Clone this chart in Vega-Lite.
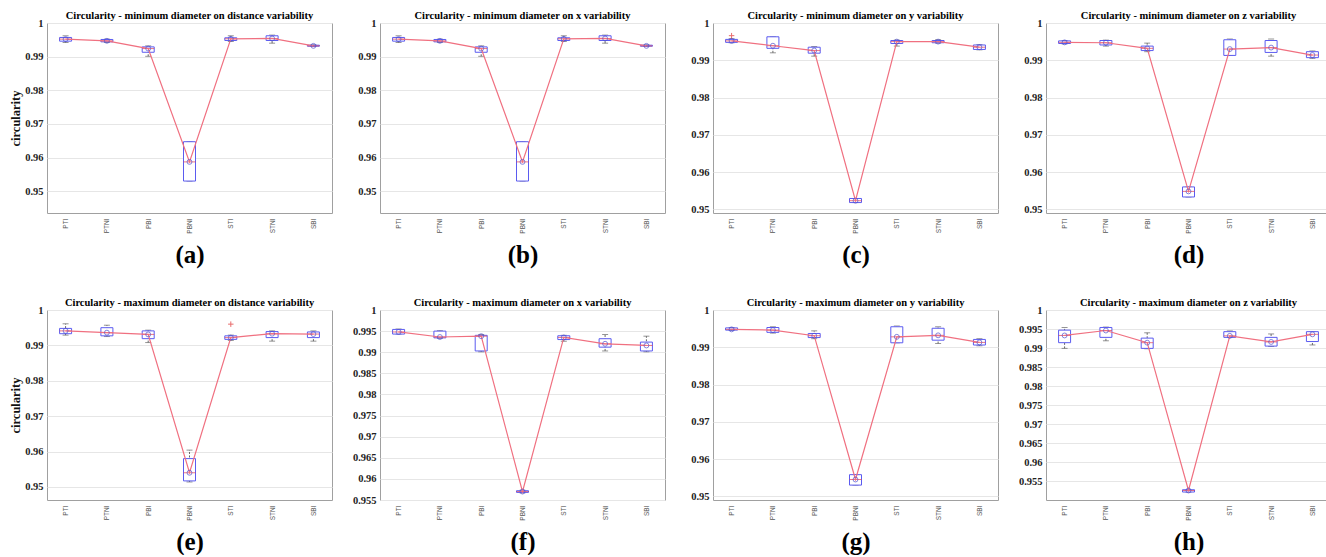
{
"$schema":"https://vega.github.io/schema/vega-lite/v6.json",
"padding":{"left":8,"top":10,"right":0,"bottom":0},
"background":"#ffffff",
"datasets":{
"s":[
{"p":"a","c":"PTI","i":1,"lo":0.9942,"q1":0.9946,"md":0.9952,"q3":0.9957,"hi":0.9962},
{"p":"a","c":"PTNI","i":2,"lo":0.9942,"q1":0.9944,"md":0.9947,"q3":0.9951,"hi":0.9952},
{"p":"a","c":"PBI","i":3,"lo":0.9901,"q1":0.9913,"md":0.9924,"q3":0.9929,"hi":0.9932},
{"p":"a","c":"PBNI","i":4,"lo":0.953,"q1":0.953,"md":0.9587,"q3":0.9647,"hi":0.9647},
{"p":"a","c":"STI","i":5,"lo":0.9945,"q1":0.9948,"md":0.9953,"q3":0.9956,"hi":0.9962},
{"p":"a","c":"STNI","i":6,"lo":0.994,"q1":0.9948,"md":0.9954,"q3":0.9962,"hi":0.9964},
{"p":"a","c":"SBI","i":7,"lo":0.993,"q1":0.9931,"md":0.9932,"q3":0.9934,"hi":0.9935},
{"p":"b","c":"PTI","i":1,"lo":0.9942,"q1":0.9946,"md":0.9952,"q3":0.9957,"hi":0.9962},
{"p":"b","c":"PTNI","i":2,"lo":0.9942,"q1":0.9944,"md":0.9947,"q3":0.9951,"hi":0.9952},
{"p":"b","c":"PBI","i":3,"lo":0.9901,"q1":0.9913,"md":0.9924,"q3":0.9929,"hi":0.9932},
{"p":"b","c":"PBNI","i":4,"lo":0.953,"q1":0.953,"md":0.9587,"q3":0.9647,"hi":0.9647},
{"p":"b","c":"STI","i":5,"lo":0.9945,"q1":0.9948,"md":0.9953,"q3":0.9956,"hi":0.9962},
{"p":"b","c":"STNI","i":6,"lo":0.994,"q1":0.9948,"md":0.9954,"q3":0.9962,"hi":0.9964},
{"p":"b","c":"SBI","i":7,"lo":0.993,"q1":0.9931,"md":0.9932,"q3":0.9934,"hi":0.9935},
{"p":"c","c":"PTI","i":1,"lo":0.9947,"q1":0.9948,"md":0.9952,"q3":0.9956,"hi":0.9958},
{"p":"c","c":"PTNI","i":2,"lo":0.992,"q1":0.9932,"md":0.9939,"q3":0.9963,"hi":0.9963},
{"p":"c","c":"PBI","i":3,"lo":0.9911,"q1":0.9919,"md":0.9926,"q3":0.9935,"hi":0.9937},
{"p":"c","c":"PBNI","i":4,"lo":0.9518,"q1":0.9518,"md":0.9523,"q3":0.9529,"hi":0.9529},
{"p":"c","c":"STI","i":5,"lo":0.9938,"q1":0.9945,"md":0.995,"q3":0.9953,"hi":0.9954},
{"p":"c","c":"STNI","i":6,"lo":0.9946,"q1":0.9947,"md":0.995,"q3":0.9953,"hi":0.9955},
{"p":"c","c":"SBI","i":7,"lo":0.9928,"q1":0.9929,"md":0.9935,"q3":0.9941,"hi":0.9942},
{"p":"d","c":"PTI","i":1,"lo":0.9944,"q1":0.9945,"md":0.9948,"q3":0.9952,"hi":0.9953},
{"p":"d","c":"PTNI","i":2,"lo":0.9938,"q1":0.9941,"md":0.9947,"q3":0.9953,"hi":0.9954},
{"p":"d","c":"PBI","i":3,"lo":0.9923,"q1":0.9926,"md":0.9932,"q3":0.9938,"hi":0.9946},
{"p":"d","c":"PBNI","i":4,"lo":0.9533,"q1":0.9533,"md":0.9548,"q3":0.956,"hi":0.956},
{"p":"d","c":"STI","i":5,"lo":0.9913,"q1":0.9913,"md":0.993,"q3":0.9955,"hi":0.9957},
{"p":"d","c":"STNI","i":6,"lo":0.9911,"q1":0.9921,"md":0.9934,"q3":0.9953,"hi":0.9957},
{"p":"d","c":"SBI","i":7,"lo":0.9905,"q1":0.9907,"md":0.9914,"q3":0.9923,"hi":0.9925},
{"p":"e","c":"PTI","i":1,"lo":0.9929,"q1":0.9933,"md":0.9941,"q3":0.9948,"hi":0.9961},
{"p":"e","c":"PTNI","i":2,"lo":0.9925,"q1":0.9927,"md":0.9936,"q3":0.995,"hi":0.9957},
{"p":"e","c":"PBI","i":3,"lo":0.9908,"q1":0.9919,"md":0.9931,"q3":0.9941,"hi":0.9943},
{"p":"e","c":"PBNI","i":4,"lo":0.9514,"q1":0.9517,"md":0.954,"q3":0.958,"hi":0.9604},
{"p":"e","c":"STI","i":5,"lo":0.9914,"q1":0.9917,"md":0.9922,"q3":0.9927,"hi":0.9929},
{"p":"e","c":"STNI","i":6,"lo":0.9912,"q1":0.9922,"md":0.9933,"q3":0.9939,"hi":0.9941},
{"p":"e","c":"SBI","i":7,"lo":0.9912,"q1":0.9922,"md":0.9932,"q3":0.9938,"hi":0.9941},
{"p":"f","c":"PTI","i":1,"lo":0.9943,"q1":0.9943,"md":0.9948,"q3":0.9954,"hi":0.9955},
{"p":"f","c":"PTNI","i":2,"lo":0.9933,"q1":0.9934,"md":0.9936,"q3":0.995,"hi":0.9951},
{"p":"f","c":"PBI","i":3,"lo":0.9901,"q1":0.9903,"md":0.9938,"q3":0.994,"hi":0.9942},
{"p":"f","c":"PBNI","i":4,"lo":0.9567,"q1":0.9568,"md":0.957,"q3":0.9572,"hi":0.9573},
{"p":"f","c":"STI","i":5,"lo":0.9926,"q1":0.993,"md":0.9935,"q3":0.9939,"hi":0.994},
{"p":"f","c":"STNI","i":6,"lo":0.9903,"q1":0.9912,"md":0.992,"q3":0.9932,"hi":0.9942},
{"p":"f","c":"SBI","i":7,"lo":0.9901,"q1":0.9903,"md":0.9916,"q3":0.9924,"hi":0.9938},
{"p":"g","c":"PTI","i":1,"lo":0.9945,"q1":0.9946,"md":0.9948,"q3":0.9952,"hi":0.9953},
{"p":"g","c":"PTNI","i":2,"lo":0.9938,"q1":0.994,"md":0.9946,"q3":0.9953,"hi":0.9955},
{"p":"g","c":"PBI","i":3,"lo":0.9923,"q1":0.9926,"md":0.9931,"q3":0.9937,"hi":0.9944},
{"p":"g","c":"PBNI","i":4,"lo":0.953,"q1":0.953,"md":0.9545,"q3":0.9558,"hi":0.9558},
{"p":"g","c":"STI","i":5,"lo":0.9912,"q1":0.9912,"md":0.9928,"q3":0.9955,"hi":0.9957},
{"p":"g","c":"STNI","i":6,"lo":0.991,"q1":0.9919,"md":0.9932,"q3":0.9951,"hi":0.9955},
{"p":"g","c":"SBI","i":7,"lo":0.9904,"q1":0.9906,"md":0.9913,"q3":0.9921,"hi":0.9923},
{"p":"h","c":"PTI","i":1,"lo":0.9899,"q1":0.9914,"md":0.9933,"q3":0.9947,"hi":0.9954},
{"p":"h","c":"PTNI","i":2,"lo":0.9919,"q1":0.9928,"md":0.9946,"q3":0.9954,"hi":0.9955},
{"p":"h","c":"PBI","i":3,"lo":0.9898,"q1":0.9899,"md":0.9914,"q3":0.9926,"hi":0.994},
{"p":"h","c":"PBNI","i":4,"lo":0.9521,"q1":0.9521,"md":0.9525,"q3":0.9527,"hi":0.9527},
{"p":"h","c":"STI","i":5,"lo":0.9928,"q1":0.9928,"md":0.9932,"q3":0.9943,"hi":0.9945},
{"p":"h","c":"STNI","i":6,"lo":0.9904,"q1":0.9905,"md":0.9916,"q3":0.9928,"hi":0.9937},
{"p":"h","c":"SBI","i":7,"lo":0.9908,"q1":0.9917,"md":0.9936,"q3":0.9943,"hi":0.9943}
],
"o":[
{"p":"c","c":"PTI","v":0.9966},
{"p":"e","c":"STI","v":0.996}
]
},
"config":{
"view":{"stroke":"#a0a0a0"},
"axis":{"grid":true,"gridColor":"#e6e6e6","domain":false,"ticks":false,"labelOverlap":false},
"axisY":{"tickCount":20,"labelFont":"Liberation Serif","labelFontWeight":"bold","labelFontSize":10.5,"labelColor":"#222","minExtent":34,"maxExtent":34,"labelPadding":4,"labelBound":false,"labelFlush":false,"titleFont":"Liberation Serif","titleFontWeight":"bold","titleFontSize":12.5,"titleColor":"#111","titlePadding":-9},
"axisX":{"grid":false,"labelAngle":270,"labelFont":"Liberation Sans","labelFontSize":6.5,"labelColor":"#555","labelPadding":5,"titleFont":"Liberation Serif","titleFontSize":25,"titleFontWeight":"bold","titleColor":"#000","titlePadding":9},
"title":{"font":"Liberation Serif","fontSize":10.5,"fontWeight":"bold","color":"#000","offset":-3}
},
"vconcat":[
{"hconcat":[
{"title":"Circularity - minimum diameter on distance variability","width":285,"height":190,
"data":{"name":"s"},"transform":[{"filter":"datum.p==='a'"}],
"encoding":{"x":{"field":"c","type":"nominal","title":"(a)","scale":{"type":"point","domain":["PTI","PTNI","PBI","PBNI","STI","STNI","SBI"],"padding":0.45}}},
"layer":[
{"mark":{"type":"rule","color":"#666","strokeDash":[2,1.5]},"encoding":{"y":{"field":"lo","type":"quantitative","title":"circularity","scale":{"domain":[0.9435,1],"nice":false,"zero":false},"axis":{"values":[0.95,0.96,0.97,0.98,0.99,1],"format":".4~g"}},"y2":{"field":"hi"}}},
{"mark":{"type":"tick","color":"#666","size":6,"thickness":1},"encoding":{"y":{"field":"lo","type":"quantitative","title":"circularity"}}},
{"mark":{"type":"tick","color":"#666","size":6,"thickness":1},"encoding":{"y":{"field":"hi","type":"quantitative","title":"circularity"}}},
{"mark":{"type":"bar","size":12,"fill":"#ffffff","stroke":"#5b5bf0","strokeWidth":1},"encoding":{"y":{"field":"q1","type":"quantitative","title":"circularity"},"y2":{"field":"q3"}}},
{"mark":{"type":"tick","color":"#e8404f","size":12,"thickness":1},"encoding":{"y":{"field":"md","type":"quantitative","title":"circularity"}}},
{"mark":{"type":"line","color":"#f07080","strokeWidth":1.2},"encoding":{"y":{"field":"md","type":"quantitative","title":"circularity"},"order":{"field":"i","type":"quantitative"}}},
{"mark":{"type":"point","shape":"circle","size":24,"filled":false,"color":"#5050d0","strokeWidth":1},"encoding":{"y":{"field":"md","type":"quantitative","title":"circularity"}}}
]},
{"title":"Circularity - minimum diameter on x variability","width":285,"height":190,
"data":{"name":"s"},"transform":[{"filter":"datum.p==='b'"}],
"encoding":{"x":{"field":"c","type":"nominal","title":"(b)","scale":{"type":"point","domain":["PTI","PTNI","PBI","PBNI","STI","STNI","SBI"],"padding":0.45}}},
"layer":[
{"mark":{"type":"rule","color":"#666","strokeDash":[2,1.5]},"encoding":{"y":{"field":"lo","type":"quantitative","title":null,"scale":{"domain":[0.9435,1],"nice":false,"zero":false},"axis":{"values":[0.95,0.96,0.97,0.98,0.99,1],"format":".4~g"}},"y2":{"field":"hi"}}},
{"mark":{"type":"tick","color":"#666","size":6,"thickness":1},"encoding":{"y":{"field":"lo","type":"quantitative","title":null}}},
{"mark":{"type":"tick","color":"#666","size":6,"thickness":1},"encoding":{"y":{"field":"hi","type":"quantitative","title":null}}},
{"mark":{"type":"bar","size":12,"fill":"#ffffff","stroke":"#5b5bf0","strokeWidth":1},"encoding":{"y":{"field":"q1","type":"quantitative","title":null},"y2":{"field":"q3"}}},
{"mark":{"type":"tick","color":"#e8404f","size":12,"thickness":1},"encoding":{"y":{"field":"md","type":"quantitative","title":null}}},
{"mark":{"type":"line","color":"#f07080","strokeWidth":1.2},"encoding":{"y":{"field":"md","type":"quantitative","title":null},"order":{"field":"i","type":"quantitative"}}},
{"mark":{"type":"point","shape":"circle","size":24,"filled":false,"color":"#5050d0","strokeWidth":1},"encoding":{"y":{"field":"md","type":"quantitative","title":null}}}
]},
{"title":"Circularity - minimum diameter on y variability","width":285,"height":190,
"data":{"name":"s"},"transform":[{"filter":"datum.p==='c'"}],
"encoding":{"x":{"field":"c","type":"nominal","title":"(c)","scale":{"type":"point","domain":["PTI","PTNI","PBI","PBNI","STI","STNI","SBI"],"padding":0.45}}},
"layer":[
{"mark":{"type":"rule","color":"#666","strokeDash":[2,1.5]},"encoding":{"y":{"field":"lo","type":"quantitative","title":null,"scale":{"domain":[0.949,1],"nice":false,"zero":false},"axis":{"values":[0.95,0.96,0.97,0.98,0.99,1],"format":".4~g"}},"y2":{"field":"hi"}}},
{"mark":{"type":"tick","color":"#666","size":6,"thickness":1},"encoding":{"y":{"field":"lo","type":"quantitative","title":null}}},
{"mark":{"type":"tick","color":"#666","size":6,"thickness":1},"encoding":{"y":{"field":"hi","type":"quantitative","title":null}}},
{"mark":{"type":"bar","size":12,"fill":"#ffffff","stroke":"#5b5bf0","strokeWidth":1},"encoding":{"y":{"field":"q1","type":"quantitative","title":null},"y2":{"field":"q3"}}},
{"mark":{"type":"tick","color":"#e8404f","size":12,"thickness":1},"encoding":{"y":{"field":"md","type":"quantitative","title":null}}},
{"mark":{"type":"line","color":"#f07080","strokeWidth":1.2},"encoding":{"y":{"field":"md","type":"quantitative","title":null},"order":{"field":"i","type":"quantitative"}}},
{"mark":{"type":"point","shape":"circle","size":24,"filled":false,"color":"#5050d0","strokeWidth":1},"encoding":{"y":{"field":"md","type":"quantitative","title":null}}},
{"data":{"name":"o"},"transform":[{"filter":"datum.p==='c'"}],"mark":{"type":"point","shape":"M-1,0L1,0M0,-1L0,1","size":30,"filled":false,"color":"#e03030","strokeWidth":1},"encoding":{"y":{"field":"v","type":"quantitative","title":null}}}
]},
{"title":"Circularity - minimum diameter on z variability","width":285,"height":190,
"data":{"name":"s"},"transform":[{"filter":"datum.p==='d'"}],
"encoding":{"x":{"field":"c","type":"nominal","title":"(d)","scale":{"type":"point","domain":["PTI","PTNI","PBI","PBNI","STI","STNI","SBI"],"padding":0.45}}},
"layer":[
{"mark":{"type":"rule","color":"#666","strokeDash":[2,1.5]},"encoding":{"y":{"field":"lo","type":"quantitative","title":null,"scale":{"domain":[0.949,1],"nice":false,"zero":false},"axis":{"values":[0.95,0.96,0.97,0.98,0.99,1],"format":".4~g"}},"y2":{"field":"hi"}}},
{"mark":{"type":"tick","color":"#666","size":6,"thickness":1},"encoding":{"y":{"field":"lo","type":"quantitative","title":null}}},
{"mark":{"type":"tick","color":"#666","size":6,"thickness":1},"encoding":{"y":{"field":"hi","type":"quantitative","title":null}}},
{"mark":{"type":"bar","size":12,"fill":"#ffffff","stroke":"#5b5bf0","strokeWidth":1},"encoding":{"y":{"field":"q1","type":"quantitative","title":null},"y2":{"field":"q3"}}},
{"mark":{"type":"tick","color":"#e8404f","size":12,"thickness":1},"encoding":{"y":{"field":"md","type":"quantitative","title":null}}},
{"mark":{"type":"line","color":"#f07080","strokeWidth":1.2},"encoding":{"y":{"field":"md","type":"quantitative","title":null},"order":{"field":"i","type":"quantitative"}}},
{"mark":{"type":"point","shape":"circle","size":24,"filled":false,"color":"#5050d0","strokeWidth":1},"encoding":{"y":{"field":"md","type":"quantitative","title":null}}}
]}
],"spacing":12},
{"hconcat":[
{"title":"Circularity - maximum diameter on distance variability","width":285,"height":190,
"data":{"name":"s"},"transform":[{"filter":"datum.p==='e'"}],
"encoding":{"x":{"field":"c","type":"nominal","title":"(e)","scale":{"type":"point","domain":["PTI","PTNI","PBI","PBNI","STI","STNI","SBI"],"padding":0.45}}},
"layer":[
{"mark":{"type":"rule","color":"#666","strokeDash":[2,1.5]},"encoding":{"y":{"field":"lo","type":"quantitative","title":"circularity","scale":{"domain":[0.9463,1],"nice":false,"zero":false},"axis":{"values":[0.95,0.96,0.97,0.98,0.99,1],"format":".4~g"}},"y2":{"field":"hi"}}},
{"mark":{"type":"tick","color":"#666","size":6,"thickness":1},"encoding":{"y":{"field":"lo","type":"quantitative","title":"circularity"}}},
{"mark":{"type":"tick","color":"#666","size":6,"thickness":1},"encoding":{"y":{"field":"hi","type":"quantitative","title":"circularity"}}},
{"mark":{"type":"bar","size":12,"fill":"#ffffff","stroke":"#5b5bf0","strokeWidth":1},"encoding":{"y":{"field":"q1","type":"quantitative","title":"circularity"},"y2":{"field":"q3"}}},
{"mark":{"type":"tick","color":"#e8404f","size":12,"thickness":1},"encoding":{"y":{"field":"md","type":"quantitative","title":"circularity"}}},
{"mark":{"type":"line","color":"#f07080","strokeWidth":1.2},"encoding":{"y":{"field":"md","type":"quantitative","title":"circularity"},"order":{"field":"i","type":"quantitative"}}},
{"mark":{"type":"point","shape":"circle","size":24,"filled":false,"color":"#5050d0","strokeWidth":1},"encoding":{"y":{"field":"md","type":"quantitative","title":"circularity"}}},
{"data":{"name":"o"},"transform":[{"filter":"datum.p==='e'"}],"mark":{"type":"point","shape":"M-1,0L1,0M0,-1L0,1","size":30,"filled":false,"color":"#e03030","strokeWidth":1},"encoding":{"y":{"field":"v","type":"quantitative","title":"circularity"}}}
]},
{"title":"Circularity - maximum diameter on x variability","width":285,"height":190,
"data":{"name":"s"},"transform":[{"filter":"datum.p==='f'"}],
"encoding":{"x":{"field":"c","type":"nominal","title":"(f)","scale":{"type":"point","domain":["PTI","PTNI","PBI","PBNI","STI","STNI","SBI"],"padding":0.45}}},
"layer":[
{"mark":{"type":"rule","color":"#666","strokeDash":[2,1.5]},"encoding":{"y":{"field":"lo","type":"quantitative","title":null,"scale":{"domain":[0.955,1],"nice":false,"zero":false},"axis":{"values":[0.955,0.96,0.965,0.97,0.975,0.98,0.985,0.99,0.995,1],"format":".4~g"}},"y2":{"field":"hi"}}},
{"mark":{"type":"tick","color":"#666","size":6,"thickness":1},"encoding":{"y":{"field":"lo","type":"quantitative","title":null}}},
{"mark":{"type":"tick","color":"#666","size":6,"thickness":1},"encoding":{"y":{"field":"hi","type":"quantitative","title":null}}},
{"mark":{"type":"bar","size":12,"fill":"#ffffff","stroke":"#5b5bf0","strokeWidth":1},"encoding":{"y":{"field":"q1","type":"quantitative","title":null},"y2":{"field":"q3"}}},
{"mark":{"type":"tick","color":"#e8404f","size":12,"thickness":1},"encoding":{"y":{"field":"md","type":"quantitative","title":null}}},
{"mark":{"type":"line","color":"#f07080","strokeWidth":1.2},"encoding":{"y":{"field":"md","type":"quantitative","title":null},"order":{"field":"i","type":"quantitative"}}},
{"mark":{"type":"point","shape":"circle","size":24,"filled":false,"color":"#5050d0","strokeWidth":1},"encoding":{"y":{"field":"md","type":"quantitative","title":null}}}
]},
{"title":"Circularity - maximum diameter on y variability","width":285,"height":190,
"data":{"name":"s"},"transform":[{"filter":"datum.p==='g'"}],
"encoding":{"x":{"field":"c","type":"nominal","title":"(g)","scale":{"type":"point","domain":["PTI","PTNI","PBI","PBNI","STI","STNI","SBI"],"padding":0.45}}},
"layer":[
{"mark":{"type":"rule","color":"#666","strokeDash":[2,1.5]},"encoding":{"y":{"field":"lo","type":"quantitative","title":null,"scale":{"domain":[0.949,1],"nice":false,"zero":false},"axis":{"values":[0.95,0.96,0.97,0.98,0.99,1],"format":".4~g"}},"y2":{"field":"hi"}}},
{"mark":{"type":"tick","color":"#666","size":6,"thickness":1},"encoding":{"y":{"field":"lo","type":"quantitative","title":null}}},
{"mark":{"type":"tick","color":"#666","size":6,"thickness":1},"encoding":{"y":{"field":"hi","type":"quantitative","title":null}}},
{"mark":{"type":"bar","size":12,"fill":"#ffffff","stroke":"#5b5bf0","strokeWidth":1},"encoding":{"y":{"field":"q1","type":"quantitative","title":null},"y2":{"field":"q3"}}},
{"mark":{"type":"tick","color":"#e8404f","size":12,"thickness":1},"encoding":{"y":{"field":"md","type":"quantitative","title":null}}},
{"mark":{"type":"line","color":"#f07080","strokeWidth":1.2},"encoding":{"y":{"field":"md","type":"quantitative","title":null},"order":{"field":"i","type":"quantitative"}}},
{"mark":{"type":"point","shape":"circle","size":24,"filled":false,"color":"#5050d0","strokeWidth":1},"encoding":{"y":{"field":"md","type":"quantitative","title":null}}}
]},
{"title":"Circularity - maximum diameter on z variability","width":285,"height":190,
"data":{"name":"s"},"transform":[{"filter":"datum.p==='h'"}],
"encoding":{"x":{"field":"c","type":"nominal","title":"(h)","scale":{"type":"point","domain":["PTI","PTNI","PBI","PBNI","STI","STNI","SBI"],"padding":0.45}}},
"layer":[
{"mark":{"type":"rule","color":"#666","strokeDash":[2,1.5]},"encoding":{"y":{"field":"lo","type":"quantitative","title":null,"scale":{"domain":[0.95,1],"nice":false,"zero":false},"axis":{"values":[0.955,0.96,0.965,0.97,0.975,0.98,0.985,0.99,0.995,1],"format":".4~g"}},"y2":{"field":"hi"}}},
{"mark":{"type":"tick","color":"#666","size":6,"thickness":1},"encoding":{"y":{"field":"lo","type":"quantitative","title":null}}},
{"mark":{"type":"tick","color":"#666","size":6,"thickness":1},"encoding":{"y":{"field":"hi","type":"quantitative","title":null}}},
{"mark":{"type":"bar","size":12,"fill":"#ffffff","stroke":"#5b5bf0","strokeWidth":1},"encoding":{"y":{"field":"q1","type":"quantitative","title":null},"y2":{"field":"q3"}}},
{"mark":{"type":"tick","color":"#e8404f","size":12,"thickness":1},"encoding":{"y":{"field":"md","type":"quantitative","title":null}}},
{"mark":{"type":"line","color":"#f07080","strokeWidth":1.2},"encoding":{"y":{"field":"md","type":"quantitative","title":null},"order":{"field":"i","type":"quantitative"}}},
{"mark":{"type":"point","shape":"circle","size":24,"filled":false,"color":"#5050d0","strokeWidth":1},"encoding":{"y":{"field":"md","type":"quantitative","title":null}}}
]}
],"spacing":12}
],
"spacing":29
}
